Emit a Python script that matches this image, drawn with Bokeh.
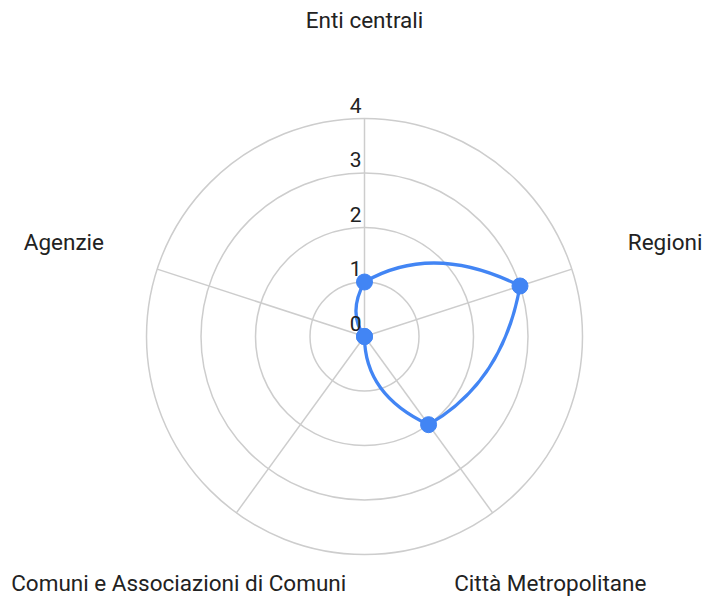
import numpy as np
from bokeh.plotting import figure
from bokeh.models import Range1d
from bokeh.embed import file_html
from bokeh.resources import INLINE
from bokeh.core.properties import value

# ---- data ----
categories = ["Enti centrali", "Regioni", "Città Metropolitane",
              "Comuni e Associazioni di Comuni", "Agenzie"]
values = [1, 3, 2, 0, 0]
ticks = [0, 1, 2, 3, 4]
tick_labels = ["0", "1", "2", "3", "4"]

# ---- layout constants ----
W, H = 706, 604
UNIT = 54.5           # pixels per value unit
CX, CY = 364, 336     # centre of the radar in figure pixels
RMAX = 4
BLUE = "#4285F4"
GRID = "#cdcdcd"
TEXT = "#222222"
FONT = "Roboto"
CURVE_T = 1.07        # outward bow of each segment

n = len(categories)
ang = np.deg2rad(90 - 360.0 / n * np.arange(n))
vals = np.array(values, dtype=float)

p = figure(width=W, height=H,
           x_range=Range1d(-CX / UNIT, (W - CX) / UNIT),
           y_range=Range1d(-(H - CY) / UNIT, CY / UNIT),
           output_backend="svg", toolbar_location=None,
           x_axis_location=None, y_axis_location=None, min_border=0)
p.grid.visible = False
p.outline_line_color = None
p.background_fill_color = "white"

# rings
rings = [t for t in ticks if t > 0]
p.circle(x=[0] * len(rings), y=[0] * len(rings), radius=rings,
         fill_color=None, line_color=GRID, line_width=1.5)
# spokes
p.segment(x0=[0] * n, y0=[0] * n, x1=RMAX * np.cos(ang), y1=RMAX * np.sin(ang),
          line_color=GRID, line_width=1.5)

# data curve: each segment bows outward around the bisecting spoke
px = vals * np.cos(ang)
py = vals * np.sin(ang)
nxt = (np.arange(n) + 1) % n
step = 2 * np.pi / n
mid = ang - step / 2
rc = CURVE_T * (vals + vals[nxt]) / 2
p.quadratic(x0=px, y0=py, x1=px[nxt], y1=py[nxt],
            cx=rc * np.cos(mid), cy=rc * np.sin(mid),
            line_color=BLUE, line_width=3.3)
p.scatter(x=px, y=py, size=16, fill_color=BLUE, line_color=BLUE)

# tick labels
p.text(x=[0] * len(ticks), y=ticks, text=tick_labels,
       text_align="right", text_baseline="bottom",
       x_offset=-3, y_offset=-6,
       text_font=value(FONT), text_font_size="21px", text_color=TEXT)

# category labels
c = np.cos(ang)
s = np.sin(ang)
rx = 5.8
ry = np.where(s > 0.99, 5.8, 5.6)
p.text(x=rx * c, y=ry * s, text=categories,
       text_align="center", text_baseline="middle",
       text_font=value(FONT), text_font_size="22.5px", text_color=TEXT)

open("out.html", "w").write(file_html(p, INLINE))
